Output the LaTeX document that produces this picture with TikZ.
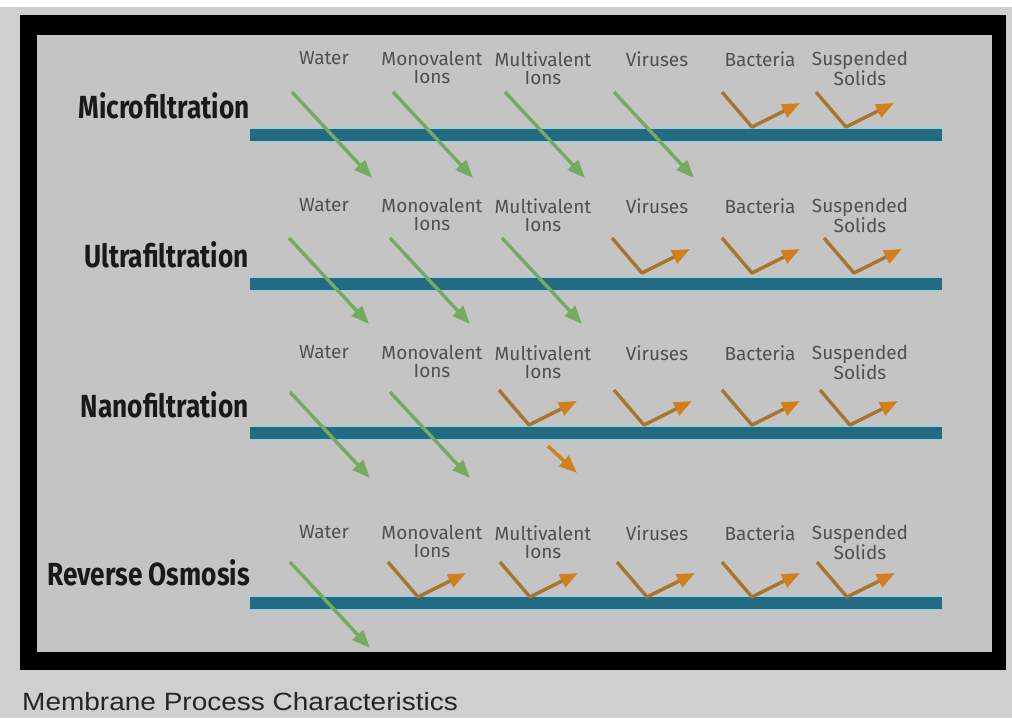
\documentclass[tikz,border=0pt]{standalone}
\usepackage{fontspec}
\usetikzlibrary{arrows.meta}
\newfontfamily\titlefont[FakeStretch=0.82]{Fira Sans}
\newfontfamily\labelfont{Fira Sans}
\newfontfamily\capfont[FakeStretch=1.12]{Liberation Sans}
\definecolor{pagegray}{HTML}{CFCFCF}
\definecolor{panelgray}{HTML}{C4C4C4}
\definecolor{membraneteal}{HTML}{226C83}
\definecolor{membranehalo}{HTML}{A9CBD6}
\definecolor{passgreen}{HTML}{74AB5E}
\definecolor{rejectbrown}{HTML}{A8752E}
\definecolor{rejectorange}{HTML}{D2801E}
\definecolor{labelgray}{HTML}{505050}

\begin{document}
\begin{tikzpicture}[x=1pt,y=-1pt,
         membrane/.style = {line width=12pt,draw=membraneteal,
            preaction={draw=membranehalo,line width=16pt}},
         pass/.style = {draw=passgreen,line width=3.4pt,
            -{Triangle[length=18pt,width=14pt]}},
         reject/.style = {draw=rejectbrown,line width=3.4pt,line join=round,
            -{Triangle[length=18pt,width=14pt,color=rejectorange]}},
         process/.style = {anchor=east,inner sep=0pt,text=black!90,
            font=\titlefont\bfseries\fontsize{32}{32}\selectfont},
         species/.style = {anchor=north,inner sep=0pt,align=center,text=labelgray,
            font=\labelfont\fontsize{19}{18}\selectfont}
]
   % page and frame
   \fill[pagegray] (0,0) rectangle (1012,718);
   \useasboundingbox (0,0) rectangle (1012,718);
   \fill[white] (0,0) rectangle (1012,7);
   \fill[black] (20,15) rectangle (1006,670);
   \fill[panelgray] (37,35) rectangle (992,652);

   % process names
   \node[process] (mf) at (250,106) {Microfiltration};
   \node[process] (uf) at (249,255) {Ultrafiltration};
   \node[process] (nf) at (249,405) {Nanofiltration};
   \node[process] (ro) at (250,573) {Reverse Osmosis};

   % species labels
   \foreach \r/\y in {mf/51,uf/198,nf/345,ro/525}{
      \node[species] (\r-water) at (324,\y) {Water};
      \node[species] (\r-mono)  at (432,\y) {Monovalent\\Ions};
      \node[species] (\r-multi) at (543,\y) {Multivalent\\Ions};
      \node[species] (\r-vir)   at (657,\y) {Viruses};
      \node[species] (\r-bact)  at (760,\y) {Bacteria};
      \node[species] (\r-ss)    at (860,\y) {Suspended\\Solids};
   }

   % membranes
   \foreach \r/\y in {mf/135,uf/284,nf/433,ro/603}{
      \coordinate (\r-l) at (250,\y);
      \coordinate (\r-r) at (942,\y);
      \draw[membrane] (\r-l) -- (\r-r);
   }

   % what passes
   \foreach \x [count=\i] in {292,393,505,614}{
      \coordinate (mf-in\i) at (\x,92);
      \draw[pass] (mf-in\i) -- ++(80,86);
   }
   \foreach \x [count=\i] in {289,390,502}{
      \coordinate (uf-in\i) at (\x,238);
      \draw[pass] (uf-in\i) -- ++(80,86);
   }
   \foreach \x [count=\i] in {290,390}{
      \coordinate (nf-in\i) at (\x,392);
      \draw[pass] (nf-in\i) -- ++(80,86);
   }
   \coordinate (ro-in1) at (290,562);
   \draw[pass] (ro-in1) -- ++(80,86);

   % what is held back
   \foreach \x [count=\i] in {722,816}{
      \coordinate (mf-out\i) at (\x,92);
      \draw[reject] (mf-out\i) -- ++(30,35) -- ++(48,-24);
   }
   \foreach \x [count=\i] in {612,722,824}{
      \coordinate (uf-out\i) at (\x,238);
      \draw[reject] (uf-out\i) -- ++(30,35) -- ++(48,-24);
   }
   \foreach \x [count=\i] in {499,614,722,820}{
      \coordinate (nf-out\i) at (\x,390);
      \draw[reject] (nf-out\i) -- ++(30,35) -- ++(48,-24);
   }
   \foreach \x [count=\i] in {388,500,617,722,817}{
      \coordinate (ro-out\i) at (\x,562);
      \draw[reject] (ro-out\i) -- ++(30,35) -- ++(48,-24);
   }
   \coordinate (nf-leak) at (548,446);
   \coordinate (nf-leak-end) at (577,473);
   \draw[reject,draw=rejectorange] (nf-leak) -- (nf-leak-end);

   % caption
   \node[anchor=west,inner sep=0pt,text=black!85,
      font=\capfont\fontsize{25}{25}\selectfont] (caption) at (22,702)
      {Membrane Process Characteristics};
\end{tikzpicture}
\end{document}
